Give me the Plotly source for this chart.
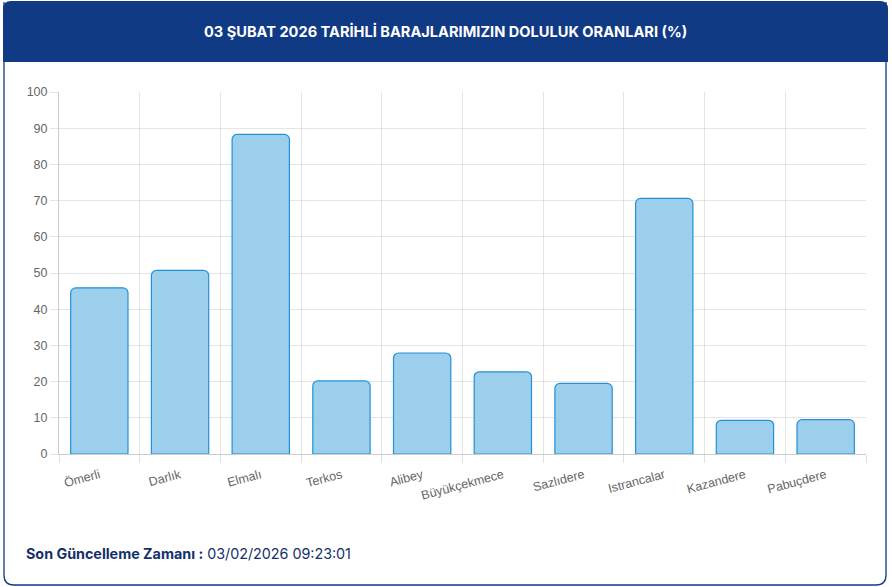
import plotly.graph_objects as go

# ---- data ----
dams = ["Ömerli", "Darlık", "Elmalı", "Terkos", "Alibey", "Büyükçekmece",
        "Sazlıdere", "Istrancalar", "Kazandere", "Pabuçdere"]
fill_pct = [45.9, 50.7, 88.3, 20.2, 27.9, 22.7, 19.5, 70.6, 9.3, 9.5]
y_ticks = [0, 10, 20, 30, 40, 50, 60, 70, 80, 90, 100]
title_text = "03 ŞUBAT 2026 TARİHLİ BARAJLARIMIZIN DOLULUK ORANLARI (%)"
update_label = "Son Güncelleme Zamanı :"
update_time = "03/02/2026 09:23:01"

W, H = 892, 587
L, R, T, B = 59, 866, 92, 454  # plot area in pixels


def px(x):
    return (x - L) / (R - L)


def py(y):
    return (B - y) / (B - T)


NAVY = "#113a84"

fig = go.Figure()
fig.add_trace(go.Bar(
    x=dams, y=fill_pct,
    width=0.71,
    marker=dict(color="#9ccfeb",
                line=dict(color="#2391d8", width=1.2),
                cornerradius=5),
    hoverinfo="x+y",
))

shapes = []
# card border (rounded bottom corners)
x0, x1, y0, y1, r = px(4), px(886), py(2), py(585), 10
rx, ry = r / (R - L), r / (B - T)
shapes.append(dict(
    type="path", xref="paper", yref="paper",
    path=(f"M {x0},{y0} L {x0},{y1 + ry} Q {x0},{y1} {x0 + rx},{y1} "
          f"L {x1 - rx},{y1} Q {x1},{y1} {x1},{y1 + ry} L {x1},{y0}"),
    line=dict(color=NAVY, width=1.3), fillcolor="rgba(0,0,0,0)", layer="below"))
# header band with rounded top corners
hx0, hx1, hy0, hy1 = px(3), px(888), py(1), py(62)
r2 = 8
rx2, ry2 = r2 / (R - L), r2 / (B - T)
shapes.append(dict(
    type="path", xref="paper", yref="paper",
    path=(f"M {hx0},{hy1} L {hx0},{hy0 - ry2} Q {hx0},{hy0} {hx0 + rx2},{hy0} "
          f"L {hx1 - rx2},{hy0} Q {hx1},{hy0} {hx1},{hy0 - ry2} L {hx1},{hy1} Z"),
    line=dict(width=0), fillcolor=NAVY, layer="below"))

annotations = [
    dict(text=f"<b>{title_text}</b>", x=px(445), y=py(32), xref="paper", yref="paper",
         xanchor="center", yanchor="middle", showarrow=False,
         font=dict(family="Inter, Open Sans, sans-serif", size=14.6, color="white")),
    dict(text=f"<b>{update_label}</b> {update_time}", x=px(24), y=py(553),
         xref="paper", yref="paper", xanchor="left", yanchor="middle", showarrow=False,
         font=dict(family="Inter, Open Sans, sans-serif", size=14.3, color="#152f6c")),
]

fig.update_layout(
    width=W, height=H,
    margin=dict(l=L, r=W - R, t=T, b=H - B, pad=0),
    paper_bgcolor="white", plot_bgcolor="white",
    showlegend=False, bargap=0.29,
    shapes=shapes, annotations=annotations,
    font=dict(family="Liberation Sans, Arial, sans-serif", color="#666666"),
    xaxis=dict(
        type="category", tickson="boundaries", showgrid=True,
        gridcolor="rgba(0,0,0,0.1)", gridwidth=1,
        showline=True, linecolor="rgba(0,0,0,0.2)", linewidth=1,
        ticks="outside", ticklen=8, tickcolor="rgba(0,0,0,0.12)",
        tickangle=-15, tickfont=dict(size=12.5, color="#666666"),
        ticklabelstandoff=8,
        fixedrange=True,
    ),
    yaxis=dict(
        range=[0, 100], tickvals=y_ticks, showgrid=True,
        gridcolor="rgba(0,0,0,0.1)", gridwidth=1,
        showline=True, linecolor="rgba(0,0,0,0.2)", linewidth=1,
        ticks="outside", ticklen=8, tickcolor="rgba(0,0,0,0.1)",
        tickfont=dict(size=12.5, color="#666666"), zeroline=False,
        fixedrange=True,
    ),
)

fig.write_html(
    "out.html",
    config={"displayModeBar": False},
    post_script="document.body.style.margin='0';document.body.style.overflow='hidden';",
)
